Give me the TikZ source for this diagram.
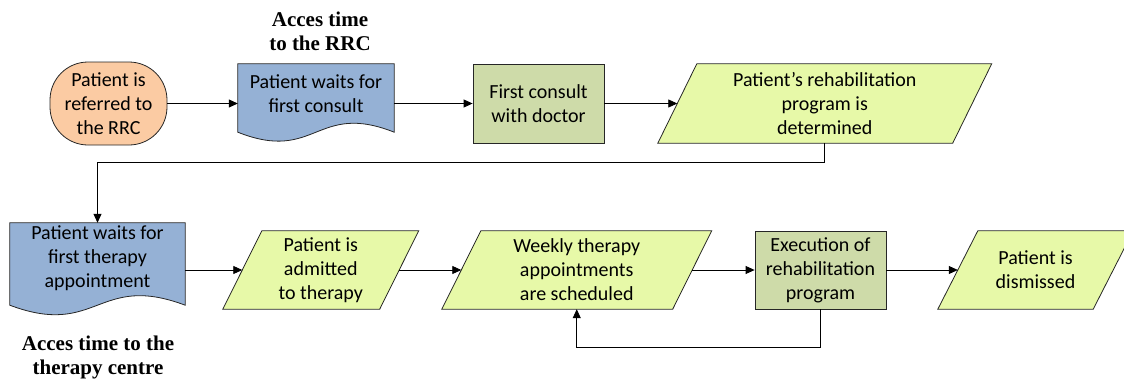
\documentclass[tikz,border=0pt]{standalone}
\usepackage{fontspec}
\setmainfont{Carlito}
\newfontfamily\labelfont{Liberation Serif}
\usetikzlibrary{arrows.meta,calc,backgrounds}
\definecolor{termfill}{HTML}{FBCBA3}
\definecolor{docfill}{HTML}{95B1D5}
\definecolor{procfill}{HTML}{CEDBA9}
\definecolor{parafill}{HTML}{E7F9A8}
\definecolor{edge}{HTML}{262626}
\tikzset{
  box/.style={inner sep=0pt, align=center, font=\fontsize{20}{24}\selectfont},
  outline/.style={draw=edge, line width=0.8pt},
  terminal/.style={box, outline, fill=termfill, rounded corners=38pt},
  process/.style={box, outline, fill=procfill},
  flow/.style={draw=black, line width=0.8pt, -{Triangle[length=9pt,width=8pt]}},
  note/.style={align=center, font=\labelfont\bfseries\fontsize{21}{24}\selectfont},
}
% slanted data box drawn around a node; #2 = half of the horizontal slant
\newcommand{\slantbox}[2]{%
  \path[outline, fill=parafill]
    ($(#1.south west)+(-#2,0)$) -- ($(#1.north west)+(#2,0)$) --
    ($(#1.north east)+(#2,0)$) -- ($(#1.south east)+(-#2,0)$) -- cycle;}
\begin{document}
\begin{tikzpicture}[x=1pt,y=-1pt]
\useasboundingbox (0,0) rectangle (1124,383);
\clip (0,0) rectangle (1124,383);

% first row
\node[terminal, minimum width=117pt, minimum height=83pt] (t1) at (108.5,103.5) {Patient is\\referred to\\the RRC};
\node[box, minimum width=156pt, minimum height=60pt] (d1) at (316,94) {Patient waits for\\first consult};
\node[process, minimum width=131pt, minimum height=79pt] (c1) at (538.5,103.5) {First consult\\with doctor};
\node[box, minimum width=294.5pt, minimum height=79pt] (p1) at (824.75,103.5) {Patient’s rehabilitation\\program is\\determined};

% second row
\node[box, minimum width=175pt, minimum height=70pt] (d2) at (97.5,258) {Patient waits for\\first therapy\\appointment};
\node[box, minimum width=156.5pt, minimum height=78pt] (p2) at (320.75,270) {Patient is\\admitted\\to therapy};
\node[box, minimum width=230.5pt, minimum height=78pt] (p3) at (576.75,270) {Weekly therapy\\appointments\\are scheduled};
\node[process, minimum width=131pt, minimum height=78pt] (c2) at (820.5,270) {Execution of\\rehabilitation\\program};
\node[box, minimum width=155pt, minimum height=78pt] (p4) at (1035.5,270) {Patient is\\dismissed};

% access time notes
\node[note] (n1) at (320,31) {Acces time\\to the RRC};
\node[note] (n2) at (98,357) {Acces time to the\\therapy centre};

% shapes behind the texts
\begin{pgfonlayer}{background}
  \path[outline, fill=docfill] (d1.north west) -- (d1.north east) -- ($(d1.south east)+(0,8)$)
    .. controls ($(d1.south)+(0,-23)$) and ($(d1.south)+(0,39)$) .. ($(d1.south west)+(0,8)$) -- cycle;
  \path[outline, fill=docfill] (d2.north west) -- (d2.north east) -- ($(d2.south east)+(0,12)$)
    .. controls ($(d2.south)+(0,-21)$) and ($(d2.south)+(0,45)$) .. ($(d2.south west)+(0,12)$) -- cycle;
  \slantbox{p1}{19.5}
  \slantbox{p2}{19.5}
  \slantbox{p3}{19.5}
  \slantbox{p4}{20}
\end{pgfonlayer}

% connectors
\draw[flow] (t1.east) -- (t1.east -| d1.west);
\draw[flow] (d1.east |- c1.west) -- (c1.west);
\draw[flow] (c1.east) -- (p1.west);
\draw[flow] (p1.south) -- ++(0,19) -| (d2.north);
\draw[flow] (d2.east |- p2.west) -- (p2.west);
\draw[flow] (p2.east) -- (p3.west);
\draw[flow] (p3.east) -- (c2.west);
\draw[flow] (c2.east) -- (p4.west);
\draw[flow] (c2.south) -- ++(0,38) -| (p3.south);
\end{tikzpicture}
\end{document}
